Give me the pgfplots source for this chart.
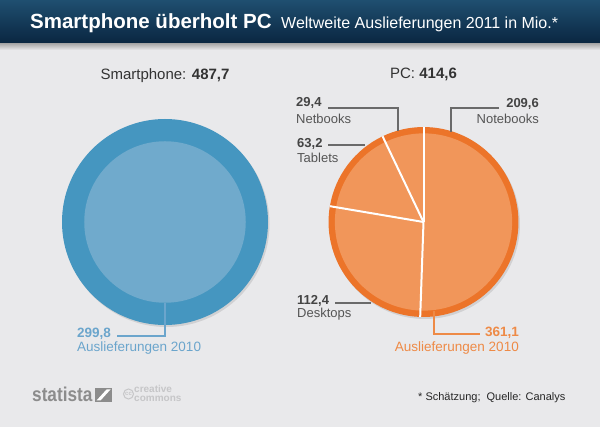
\documentclass[border=0pt]{standalone}
\usepackage{pgfplots}
\pgfplotsset{compat=1.18}
\usepackage{pgfplotstable}
\usepackage{fontspec}
\setmainfont{Liberation Sans}

\definecolor{bg}{HTML}{E9E9EB}
\definecolor{headTop}{HTML}{1F4F70}
\definecolor{headBot}{HTML}{0A2641}
\definecolor{blueOut}{HTML}{4596C0}
\definecolor{blueIn}{HTML}{70AACC}
\definecolor{blueTxt}{HTML}{6BA5CC}
\definecolor{orOut}{HTML}{EC7429}
\definecolor{orIn}{HTML}{F1965A}
\definecolor{orTxt}{HTML}{EE8A46}
\definecolor{lblTxt}{HTML}{555555}
\definecolor{numTxt}{HTML}{444444}
\definecolor{leader}{HTML}{6A6A6A}
\definecolor{logo}{HTML}{8C8C8C}
\definecolor{cclogo}{HTML}{C6C6C8}

% PC shipments 2011 (million units) by segment
\pgfplotstableread{
segment value
Notebooks 209.6
Desktops 112.4
Tablets 63.2
Netbooks 29.4
}\pcshipments

\def\smartTotal{487.7}% smartphones 2011
\def\smartPrev{299.8}% smartphones 2010
\def\pcPrev{361.1}%    PCs 2010

\pgfplotstablegetelem{0}{value}\of\pcshipments \let\vNote\pgfplotsretval
\pgfplotstablegetelem{1}{value}\of\pcshipments \let\vDesk\pgfplotsretval
\pgfplotstablegetelem{2}{value}\of\pcshipments \let\vTab\pgfplotsretval
\pgfplotstablegetelem{3}{value}\of\pcshipments \let\vNet\pgfplotsretval
\pgfmathsetmacro\pcTotal{\vNote+\vDesk+\vTab+\vNet}

% circle areas are proportional to the shipment volumes
\def\Rsmart{103}
\pgfmathsetmacro\RsmartIn{\Rsmart*sqrt(\smartPrev/\smartTotal)}
\pgfmathsetmacro\Rpc{\Rsmart*sqrt(\pcTotal/\smartTotal)}
\pgfmathsetmacro\RpcIn{\Rpc*sqrt(\pcPrev/\pcTotal)}

% slice boundaries, clockwise from twelve o'clock
\pgfmathsetmacro\aA{90}
\pgfmathsetmacro\aB{\aA-\vNote/\pcTotal*360}
\pgfmathsetmacro\aC{\aB-\vDesk/\pcTotal*360}
\pgfmathsetmacro\aD{\aC-\vTab/\pcTotal*360}
\pgfmathsetmacro\aE{\aD-\vNet/\pcTotal*360}

\def\cxS{165}\def\cyS{222}
\def\cxP{423.5}\def\cyP{222}

\newcommand\pcslice[2]{%
  \fill[orOut] (\cxP,\cyP) -- ++(#1:\Rpc pt) arc[start angle=#1, end angle=#2, radius=\Rpc pt] -- cycle;
  \fill[orIn] (\cxP,\cyP) -- ++(#1:\RpcIn pt) arc[start angle=#1, end angle=#2, radius=\RpcIn pt] -- cycle;
}
\newcommand\pcsep[1]{%
  \draw[white, line width=2pt] (\cxP,\cyP) -- ++(#1:\Rpc pt);
}
\newcommand\fs[1]{\fontsize{#1}{#1}\selectfont}

\begin{document}
\begin{tikzpicture}
\begin{axis}[
  scale only axis, width=600pt, height=427pt,
  xmin=0, xmax=600, ymin=0, ymax=427, y dir=reverse,
  hide axis, clip=false]

% background and header band
\fill[bg] (0,0) rectangle (600,427);
\shade[top color=black!40, bottom color=bg] (0,42) rectangle (600,50);
\shade[top color=headTop, bottom color=headBot] (0,0) rectangle (600,43);
\node[anchor=base west, text=white, inner sep=0pt] at (30,29)
  {\fs{20.5}\bfseries Smartphone überholt PC};
\node[anchor=base west, text=white, inner sep=0pt] at (281,29)
  {\fs{16}Weltweite Auslieferungen 2011 in Mio.*};

% smartphones
\fill[black, opacity=0.10] (\cxS+1.5,\cyS+2) circle[radius=\Rsmart pt];
\fill[blueOut] (\cxS,\cyS) circle[radius=\Rsmart pt];
\fill[blueIn] (\cxS,\cyS) circle[radius=\RsmartIn pt];
\node[anchor=base, text=black!80, inner sep=0pt] at (\cxS,80)
  {\fs{15}Smartphone: \textbf{487,7}};
\draw[blueTxt, line width=2pt] (\cxS,\cyS+\RsmartIn) -- (\cxS,336) -- (117,336);
\node[anchor=base west, text=blueTxt, inner sep=0pt] at (77,338) {\fs{13.5}\bfseries 299,8};
\node[anchor=base west, text=blueTxt, inner sep=0pt] at (77,352) {\fs{13.5}Auslieferungen 2010};

% PCs
\fill[black, opacity=0.10] (\cxP+1.5,\cyP+2) circle[radius=\Rpc pt];
\pcslice{\aA}{\aB}
\pcslice{\aB}{\aC}
\pcslice{\aC}{\aD}
\pcslice{\aD}{\aE}
\pcsep{\aA}
\pcsep{\aB}
\pcsep{\aC}
\pcsep{\aD}
\node[anchor=base, text=black!80, inner sep=0pt] at (\cxP,79)
  {\fs{15}PC: \textbf{414,6}};

% segment labels
\draw[leader, line width=1.4pt] (328,108) -- (398,108) -- (398,131);
\node[anchor=base west, text=numTxt, inner sep=0pt] at (296,107) {\fs{13}\bfseries 29,4};
\node[anchor=base west, text=lblTxt, inner sep=0pt] at (296,124) {\fs{13}Netbooks};

\draw[leader, line width=1.4pt] (499,108) -- (451,108) -- (451,132);
\node[anchor=base east, text=numTxt, inner sep=0pt] at (539,108) {\fs{13}\bfseries 209,6};
\node[anchor=base east, text=lblTxt, inner sep=0pt] at (539,124) {\fs{13}Notebooks};

\draw[leader, line width=1.4pt] (328,145) -- (365,145);
\node[anchor=base west, text=numTxt, inner sep=0pt] at (297,148) {\fs{13}\bfseries 63,2};
\node[anchor=base west, text=lblTxt, inner sep=0pt] at (297,163) {\fs{13}Tablets};

\draw[leader, line width=1.4pt] (335,303) -- (371,303);
\node[anchor=base west, text=numTxt, inner sep=0pt] at (297,305) {\fs{13}\bfseries 112,4};
\node[anchor=base west, text=lblTxt, inner sep=0pt] at (297,318) {\fs{13}Desktops};

\draw[orTxt, line width=2pt] (434,\cyP+\RpcIn) -- (434,334) -- (480,334);
\node[anchor=base east, text=orTxt, inner sep=0pt] at (519,337) {\fs{13.5}\bfseries 361,1};
\node[anchor=base east, text=orTxt, inner sep=0pt] at (519,352) {\fs{13.5}Auslieferungen 2010};

% footer
\node[anchor=base west, text=logo, inner sep=0pt] at (32,402)
  {\fs{20}\bfseries\scalebox{0.86}[1]{statista}};
\fill[logo] (95,388) rectangle (112,402);
\fill[white] (96.5,400.5) -- (100.5,400.5) -- (110.5,389.5) -- (106.5,389.5) -- cycle;
\draw[cclogo, line width=1pt] (128.5,394) circle[radius=5pt];
\node[text=cclogo, inner sep=0pt] at (128.5,394.3) {\fs{6}\bfseries cc};
\node[anchor=base west, text=cclogo, inner sep=0pt] at (134,393) {\fs{10}\bfseries creative};
\node[anchor=base west, text=cclogo, inner sep=0pt] at (134,401.5) {\fs{10}\bfseries commons};
\node[anchor=base west, text=black!85, inner sep=0pt] at (418,401)
  {\fs{11}* Schätzung;\ \ Quelle: Canalys};
\end{axis}
\end{tikzpicture}
\end{document}
